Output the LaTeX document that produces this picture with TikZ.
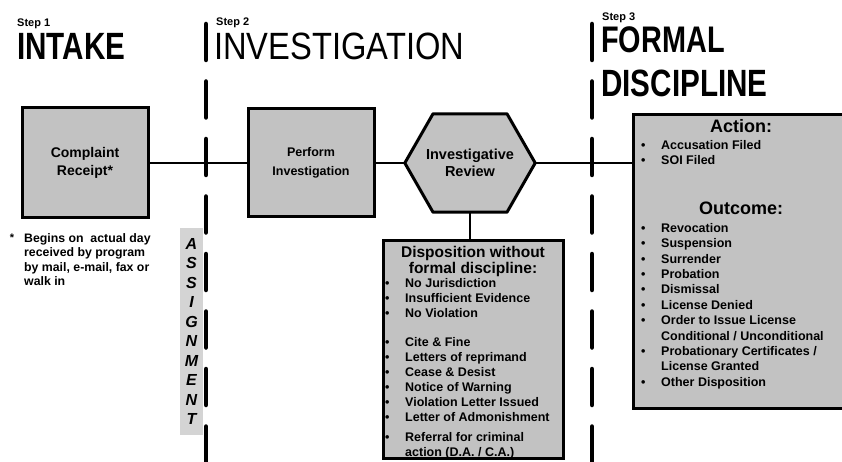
\documentclass[tikz,border=0pt]{standalone}
\usepackage{fontspec}
\setmainfont{Liberation Sans}
\newfontfamily\headfont[FakeStretch=0.78]{Liberation Sans}
\newfontfamily\widehead[FakeStretch=0.86]{Liberation Sans}
\usetikzlibrary{backgrounds}
\definecolor{boxgray}{HTML}{C2C2C2}
\definecolor{lanegray}{HTML}{D4D4D4}
\newcommand{\bul}{\makebox[20pt][l]{\textbullet}}
\newcommand{\gap}{\hspace*{20pt}}

\begin{document}
\begin{tikzpicture}[x=1pt, y=-1pt,
    box/.style={draw, line width=3pt, fill=boxgray, align=center, font=\bfseries\fontsize{14}{18.5}\selectfont},
    link/.style={line width=2pt},
    divider/.style={line width=4.5pt, line cap=round, dash pattern=on 36pt off 21.5pt},
    steplabel/.style={anchor=base west, inner sep=0, font=\bfseries\fontsize{11}{13}\selectfont},
    title/.style={anchor=base west, inner sep=0, font=\headfont\bfseries\fontsize{38}{44}\selectfont},
    list/.style={anchor=north west, inner sep=0, align=left, font=\bfseries\fontsize{12.5}{15.4}\selectfont},
    heading/.style={anchor=base, inner sep=0, font=\bfseries\fontsize{18}{20}\selectfont}
]
    \useasboundingbox (0,0) rectangle (842,462);

    \node[steplabel] (step1) at (17,27) {Step 1};
    \node[title] (intaketitle) at (17,60) {INTAKE};
    \node[steplabel] (step2) at (216,26) {Step 2};
    \node[title, font=\widehead\fontsize{38}{44}\selectfont] (invtitle) at (214,60) {INVESTIGATION};
    \node[steplabel] (step3) at (602,21) {Step 3};
    \node[title, font=\headfont\bfseries\fontsize{37}{44}\selectfont] (formaltitle) at (601,53) {FORMAL};
    \node[title] (disctitle) at (601,97) {DISCIPLINE};

    \node[box, minimum width=126pt, minimum height=110pt] (intake) at (85,163) {Complaint\\Receipt*};
    \node[box, minimum width=126pt, minimum height=108pt, font=\bfseries\fontsize{12.5}{18.5}\selectfont] (inv) at (311,163) {Perform\\Investigation};
    \node[align=center, minimum width=130pt, minimum height=98pt, inner sep=0, font=\bfseries\fontsize{14.5}{17}\selectfont] (rev) at (470,163) {Investigative\\Review};
    \begin{scope}[on background layer]
        \draw[line width=3pt, fill=boxgray, line join=round] (rev.west) -- ([xshift=-37pt]rev.north) -- ([xshift=37pt]rev.north)
            -- (rev.east) -- ([xshift=37pt]rev.south) -- ([xshift=-37pt]rev.south) -- cycle;
    \end{scope}

    \node[inner sep=0, font=\bfseries\fontsize{11}{12}\selectfont] (asterisk) at (12,238) {*};
    \node[list, font=\bfseries\fontsize{12.3}{14.3}\selectfont] (note) at (24,233.5) {Begins on\ \ actual day\\received by program\\by mail, e-mail, fax or\\walk in};

    \node[box, minimum width=180pt, minimum height=218pt] (disp) at (473,349) {};
    \node[anchor=north, inner sep=0, align=center, font=\bfseries\fontsize{15.5}{16}\selectfont] (disphead) at (473,246) {Disposition without\\formal discipline:};
    \node[list, font=\bfseries\fontsize{12.5}{15}\selectfont] (displist) at (385,278) {\bul No Jurisdiction\\ \bul Insufficient Evidence\\ \bul No Violation\\[14pt]
        \bul Cite \& Fine\\ \bul Letters of reprimand\\ \bul Cease \& Desist\\ \bul Notice of Warning\\ \bul Violation Letter Issued\\ \bul Letter of Admonishment\\[5pt]
        \bul Referral for criminal\\ \gap action (D.A. / C.A.)};

    \node[box, minimum width=213pt, minimum height=293pt] (formal) at (739.5,261.5) {};
    \node[heading] (acthead) at (741,132.5) {Action:};
    \node[list] (actlist) at (641,140) {\bul Accusation Filed\\ \bul SOI Filed};
    \node[heading] (outhead) at (741,214.5) {Outcome:};
    \node[list] (outlist) at (641,223) {\bul Revocation\\ \bul Suspension\\ \bul Surrender\\ \bul Probation\\ \bul Dismissal\\ \bul License Denied\\
        \bul Order to Issue License\\ \gap Conditional / Unconditional\\ \bul Probationary Certificates /\\ \gap License Granted\\ \bul Other Disposition};

    \node[fill=lanegray, minimum width=23pt, minimum height=207pt, inner sep=0, align=center, font=\bfseries\itshape\fontsize{16}{19.5}\selectfont] (assign) at (191.5,331.5) {A\\S\\S\\I\\G\\N\\M\\E\\N\\T};

    \draw[link] (intake) -- (inv);
    \draw[link] (inv) -- (rev);
    \draw[link] (rev.east) -- (rev.east -| formal.west);
    \draw[link] (rev.south) -- (rev.south |- disp.north);

    \coordinate (d1top) at (206,24);
    \coordinate (d1end) at (206,470);
    \coordinate (d2top) at (592,24);
    \coordinate (d2end) at (592,470);
    \draw[divider] (d1top) -- (d1end);
    \draw[divider] (d2top) -- (d2end);
\end{tikzpicture}
\end{document}
